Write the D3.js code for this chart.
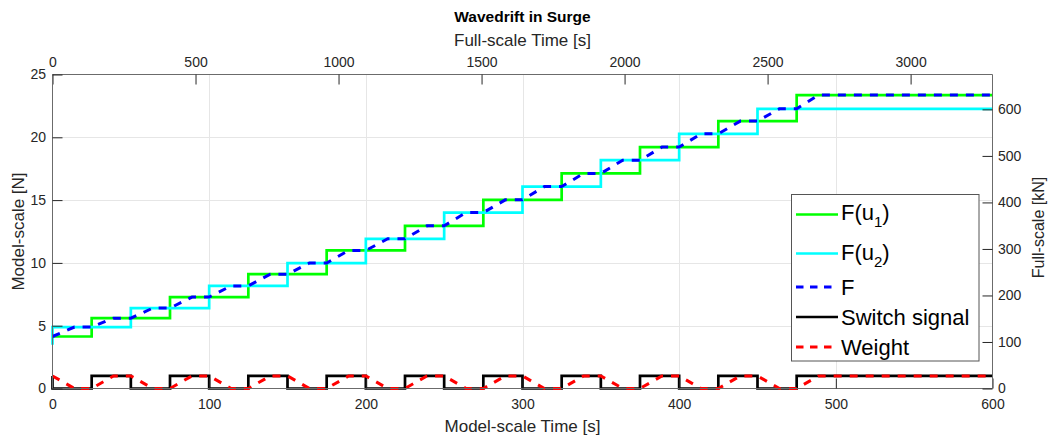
<!DOCTYPE html>
<html>
<head>
<meta charset="utf-8">
<script src="https://cdn.jsdelivr.net/npm/d3@7"></script>
<style>
  html, body { margin: 0; padding: 0; background: #fff; }
  svg { display: block; font-family: "Liberation Sans", Arial, Helvetica, sans-serif; }
</style>
</head>
<body>
<svg id="chart" width="1052" height="441"></svg>
<script>
// Axis ticks
const modelTimeTicks = [0, 100, 200, 300, 400, 500, 600];
const fullTimeTicks = [0, 500, 1000, 1500, 2000, 2500, 3000];
const modelForceTicks = [0, 5, 10, 15, 20, 25];
const fullForceTicks = [0, 100, 200, 300, 400, 500, 600];

// Froude scaling 1:30 — time by sqrt(30), force by 30^3 (N -> kN / 1000)
const lengthScale = 30;
const modelTimeMax = 600;
const modelForceMax = 25;

// F(u1): held force, updated on rising switch edges [N]
const f1Time = [0, 25, 75, 125, 175, 225, 275, 325, 375, 425, 475, 600];
const f1Value = [4.14, 5.60, 7.28, 9.10, 10.99, 12.95, 15.02, 17.12, 19.22, 21.29, 23.36, 23.36];

// F(u2): held force, updated on falling switch edges [N]
const f2Time = [0, 0, 50, 100, 150, 200, 250, 300, 350, 400, 450, 600];
const f2Value = [3.48, 4.89, 6.40, 8.17, 9.99, 11.92, 14.01, 16.08, 18.18, 20.28, 22.27, 22.27];

// F: blended force [N]
const fTime = [0, 14, 25, 39, 50, 64, 75, 89, 100, 114, 125, 139, 150, 164, 175, 189,
  200, 214, 225, 239, 250, 264, 275, 289, 300, 314, 325, 339, 350, 364, 375, 389,
  400, 414, 425, 439, 450, 464, 475, 489, 600];
const fValue = [4.14, 4.89, 4.89, 5.60, 5.60, 6.40, 6.40, 7.28, 7.28, 8.17, 8.17, 9.10, 9.10, 9.99, 9.99, 10.99,
  10.99, 11.92, 11.92, 12.95, 12.95, 14.01, 14.01, 15.02, 15.02, 16.08, 16.08, 17.12, 17.12, 18.18, 18.18, 19.22,
  19.22, 20.28, 20.28, 21.29, 21.29, 22.27, 22.27, 23.36, 23.36];

// Switch signal (0/1)
const switchTime = [0, 0, 25, 50, 75, 100, 125, 150, 175, 200, 225, 250, 275, 300, 325, 350, 375, 400, 425, 450, 475, 600];
const switchValue = [1, 0, 1, 0, 1, 0, 1, 0, 1, 0, 1, 0, 1, 0, 1, 0, 1, 0, 1, 0, 1, 1];

// Blending weight (0..1)
const weightTime = [0, 14, 25, 39, 50, 64, 75, 89, 100, 114, 125, 139, 150, 164, 175, 189,
  200, 214, 225, 239, 250, 264, 275, 289, 300, 314, 325, 339, 350, 364, 375, 389,
  400, 414, 425, 439, 450, 464, 475, 489, 600];
const weightValue = [1, 0, 0, 1, 1, 0, 0, 1, 1, 0, 0, 1, 1, 0, 0, 1,
  1, 0, 0, 1, 1, 0, 0, 1, 1, 0, 0, 1, 1, 0, 0, 1,
  1, 0, 0, 1, 1, 0, 0, 1, 1];

const legendNames = [["F(u", "1", ")"], ["F(u", "2", ")"], ["F"], ["Switch signal"], ["Weight"]];

// ---------------------------------------------------------------
const svg = d3.select("#chart");
const plot = { left: 52.5, right: 992.5, top: 74.5, bottom: 388.5 };
const axisCol = "#262626";
const lineCol = "#6b6b6b";
const gridCol = "#e6e6e6";

const x = d3.scaleLinear().domain([0, modelTimeMax]).range([plot.left, plot.right]);
const xTop = d3.scaleLinear().domain([0, modelTimeMax * Math.sqrt(lengthScale)]).range([plot.left, plot.right]);
const y = d3.scaleLinear().domain([0, modelForceMax]).range([plot.bottom, plot.top]);
const yRight = d3.scaleLinear().domain([0, modelForceMax * Math.pow(lengthScale, 3) / 1000]).range([plot.bottom, plot.top]);

// grid
const grid = svg.append("g");
grid.selectAll("line.v").data(modelTimeTicks.filter(d => d > 0 && d < modelTimeMax)).join("line")
  .attr("x1", d => Math.round(x(d)) + 0.5).attr("x2", d => Math.round(x(d)) + 0.5)
  .attr("y1", plot.top).attr("y2", plot.bottom)
  .attr("stroke", gridCol).attr("stroke-width", 1);
grid.selectAll("line.h").data(modelForceTicks.filter(d => d > 0 && d < modelForceMax)).join("line")
  .attr("y1", d => Math.round(y(d)) + 0.5).attr("y2", d => Math.round(y(d)) + 0.5)
  .attr("x1", plot.left).attr("x2", plot.right)
  .attr("stroke", gridCol).attr("stroke-width", 1);

// series
function series(ts, vs) { return ts.map((t, i) => [t, vs[i]]); }
const stepLine = d3.line().x(d => x(d[0])).y(d => y(d[1])).curve(d3.curveStepAfter);
const polyLine = d3.line().x(d => x(d[0])).y(d => y(d[1]));

const marks = svg.append("g").attr("fill", "none").attr("stroke-linejoin", "miter");
const styles = [
  { color: "#00ff00", dash: null, width: 2.7 },
  { color: "#00ffff", dash: null, width: 2.7 },
  { color: "#0000ff", dash: "8,8", width: 3 },
  { color: "#000000", dash: null, width: 2.7 },
  { color: "#ff0000", dash: "8,8", width: 3 }
];
marks.append("path").attr("d", stepLine(series(f1Time, f1Value)))
  .attr("stroke", styles[0].color).attr("stroke-width", styles[0].width);
marks.append("path").attr("d", stepLine(series(f2Time, f2Value)))
  .attr("stroke", styles[1].color).attr("stroke-width", styles[1].width);
marks.append("path").attr("d", polyLine(series(fTime, fValue)))
  .attr("stroke", styles[2].color).attr("stroke-width", styles[2].width).attr("stroke-dasharray", styles[2].dash);
marks.append("path").attr("d", stepLine(series(switchTime, switchValue)))
  .attr("stroke", styles[3].color).attr("stroke-width", styles[3].width);
marks.append("path").attr("d", polyLine(series(weightTime, weightValue)))
  .attr("stroke", styles[4].color).attr("stroke-width", styles[4].width).attr("stroke-dasharray", styles[4].dash);

// axes (ticks point inward; label offset equals tickPadding)
const tickLen = 10;
const fmt = d3.format("d");
function styleAxis(g) {
  g.select(".domain").attr("stroke", lineCol).attr("stroke-width", 1);
  g.selectAll(".tick line").attr("stroke", axisCol).attr("stroke-width", 1);
  g.selectAll(".tick text").attr("fill", axisCol).attr("font-size", 14)
    .attr("font-family", "\"Liberation Sans\", Arial, Helvetica, sans-serif");
}
const axB = svg.append("g").attr("transform", `translate(0,${plot.bottom})`)
  .call(d3.axisBottom(x).tickValues(modelTimeTicks).tickFormat(fmt).tickSizeInner(-tickLen).tickSizeOuter(0).tickPadding(11));
styleAxis(axB);
const axT = svg.append("g").attr("transform", `translate(0,${plot.top})`)
  .call(d3.axisTop(xTop).tickValues(fullTimeTicks).tickFormat(fmt).tickSizeInner(-tickLen).tickSizeOuter(0).tickPadding(8));
styleAxis(axT);
const axL = svg.append("g").attr("transform", `translate(${plot.left},0)`)
  .call(d3.axisLeft(y).tickValues(modelForceTicks).tickFormat(fmt).tickSizeInner(-tickLen).tickSizeOuter(0).tickPadding(6.5));
styleAxis(axL);
const axR = svg.append("g").attr("transform", `translate(${plot.right},0)`)
  .call(d3.axisRight(yRight).tickValues(fullForceTicks).tickFormat(fmt).tickSizeInner(-tickLen).tickSizeOuter(0).tickPadding(5.5));
styleAxis(axR);
axT.select(".domain").attr("d", `M${plot.left},0H${plot.right}`);
axB.select(".domain").attr("d", `M${plot.left},0H${plot.right}`);
axL.select(".domain").attr("d", `M0,${plot.bottom}V${plot.top}`);
axR.select(".domain").attr("d", `M0,${plot.bottom}V${plot.top}`);

// titles and labels
svg.append("text").attr("x", (plot.left + plot.right) / 2).attr("y", 22)
  .attr("text-anchor", "middle").attr("font-weight", "bold").attr("font-size", 15.5).attr("fill", "#000")
  .text("Wavedrift in Surge");
svg.append("text").attr("x", (plot.left + plot.right) / 2).attr("y", 46)
  .attr("text-anchor", "middle").attr("font-size", 17).attr("fill", axisCol)
  .text("Full-scale Time [s]");
svg.append("text").attr("x", (plot.left + plot.right) / 2).attr("y", 432)
  .attr("text-anchor", "middle").attr("font-size", 17).attr("fill", axisCol)
  .text("Model-scale Time [s]");
svg.append("text").attr("transform", `translate(24,${(plot.top + plot.bottom) / 2}) rotate(-90)`)
  .attr("text-anchor", "middle").attr("font-size", 17).attr("fill", axisCol)
  .text("Model-scale [N]");
svg.append("text").attr("transform", `translate(1044,${(plot.top + plot.bottom) / 2 - 4}) rotate(-90)`)
  .attr("text-anchor", "middle").attr("font-size", 16).attr("fill", axisCol)
  .text("Full-scale [kN]");

// legend
const lg = svg.append("g");
lg.append("rect").attr("x", 791.5).attr("y", 194.5).attr("width", 187.5).attr("height", 166.5)
  .attr("fill", "#fff").attr("stroke", "#555").attr("stroke-width", 1);
const rowLine = [214.5, 253.5, 287, 317, 347];
const rowBase = [220, 259.5, 295, 325, 355];
legendNames.forEach((parts, i) => {
  const s = styles[i];
  lg.append("line").attr("x1", 796).attr("x2", 838).attr("y1", rowLine[i]).attr("y2", rowLine[i])
    .attr("stroke", s.color).attr("stroke-width", s.width)
    .attr("stroke-dasharray", s.dash ? "7.5,6.5" : null);
  const t = lg.append("text").attr("x", 841).attr("y", rowBase[i]).attr("font-size", 22).attr("fill", "#000");
  t.append("tspan").text(parts[0]);
  if (parts.length > 1) {
    t.append("tspan").attr("font-size", 15).attr("dy", 7).text(parts[1]);
    t.append("tspan").attr("dy", -7).text(parts[2]);
  }
});
</script>
</body>
</html>
